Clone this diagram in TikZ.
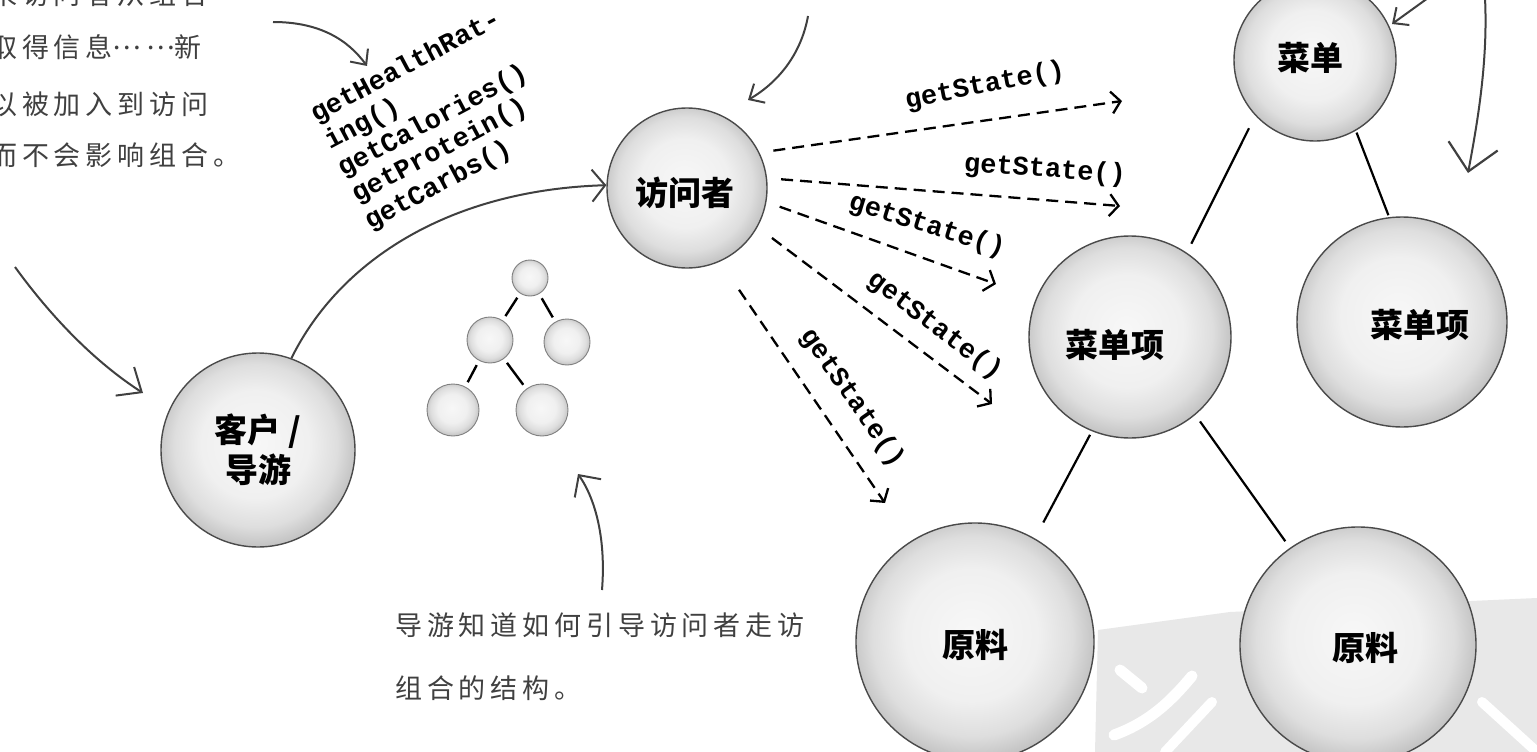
\documentclass[tikz,border=0pt]{standalone}
\usepackage{fontspec}
\newfontfamily\cjk{Noto Sans CJK SC}
\newfontfamily\handcjk[LetterSpace=18]{Noto Sans CJK SC}
\newfontfamily\mono{Liberation Mono}
\usetikzlibrary{arrows.meta}
\definecolor{ink}{HTML}{404040}
\definecolor{rim}{HTML}{4A4A4A}
\pgfdeclareradialshading{bubble}{\pgfpoint{-1bp}{2bp}}{color(0bp)=(black!3); color(14bp)=(black!6); color(21bp)=(black!13); color(26bp)=(black!24); color(29.5bp)=(black!36); color(32bp)=(black!48); color(34bp)=(black!58); color(36bp)=(black!66); color(50bp)=(black!66)}
\begin{document}
\begin{tikzpicture}[x=1pt,y=-1pt,
  bubble/.style={circle, shading=bubble, draw=rim, line width=1.4pt, inner sep=0pt},
  mini/.style={circle, shading=bubble, draw=black!50, line width=0.9pt, inner sep=0pt},
  lbl/.style={font=\cjk\bfseries\fontsize{33}{40}\selectfont, align=center, inner sep=0pt},
  meth/.style={font=\mono\bfseries\fontsize{27}{30}\selectfont, anchor=base west, rotate=28, inner sep=0pt},
  gs/.style={font=\mono\bfseries\fontsize{27}{30}\selectfont, inner sep=0pt},
  dar/.style={dash pattern=on 12pt off 7pt, line width=2.3pt, -{Straight Barb[length=9pt,width=22pt,line width=2.3pt]}},
  hand/.style={draw=ink, line width=2pt},
  note/.style={font=\handcjk\fontsize{27}{52}\selectfont, text=ink, inner sep=0pt},
  bedge/.style={line width=2.2pt, black},
  tedge/.style={line width=2.4pt, black, shorten <=5pt, shorten >=5pt}]
\useasboundingbox (0,0) rectangle (1537,752);
\fill[white] (0,0) rectangle (1537,752);
% watermark
\fill[black!9] (1095,752) -- (1098,630) -- (1230,612) -- (1537,598) -- (1537,752) -- cycle;
\draw[white, line width=11pt, line cap=round] (1120,670) -- (1142,688);
\draw[white, line width=11pt, line cap=round] (1114,735) .. controls (1150,722) and (1172,700) .. (1192,676);
\draw[white, line width=10pt, line cap=round] (1165,752) -- (1212,702);
\draw[white, line width=10pt, line cap=round] (1482,702) -- (1537,752);
% big bubbles
\node[bubble, minimum size=162pt] (menu) at (1315,60) {};
\node[bubble, minimum size=202pt] (itemL) at (1130,337) {};
\node[bubble, minimum size=210pt] (itemR) at (1402,322) {};
\node[bubble, minimum size=238pt] (ingL) at (975,642) {};
\node[bubble, minimum size=236pt] (ingR) at (1358,645) {};
\node[bubble, minimum size=160pt] (visitor) at (687,188) {};
\node[bubble, minimum size=194pt] (client) at (258,450) {};
% labels in bubbles
\node[lbl] (menuT) at (1310,58) {菜单};
\node[lbl] (itemLT) at (1115,345) {菜单项};
\node[lbl] (itemRT) at (1420,325) {菜单项};
\node[lbl] (ingLT) at (975,645) {原料};
\node[lbl] (ingRT) at (1365,648) {原料};
\node[lbl] (visitorT) at (685,193) {访问者};
\node[lbl] (clientT) at (258,450) {客户 /\\导游};
% tree edges
\draw[bedge, shorten <=14pt, shorten >=10pt] (menu.223) -- (itemL.56);
\draw[bedge, shorten <=2pt, shorten >=2pt] (menu.300) -- (itemR.97);
\draw[bedge, shorten <=4pt, shorten >=18pt] (itemL.248) -- (ingL.60);
\draw[bedge, shorten <=8pt, shorten >=8pt] (itemL.310) -- (ingR.125);
% mini tree
\node[mini, minimum size=36pt] (t0) at (530,278) {};
\node[mini, minimum size=46pt] (t1) at (490,340) {};
\node[mini, minimum size=46pt] (t2) at (567,342) {};
\node[mini, minimum size=52pt] (t3) at (453,410) {};
\node[mini, minimum size=52pt] (t4) at (542,410) {};
\draw[tedge] (t0) -- (t1);
\draw[tedge] (t0) -- (t2);
\draw[tedge] (t1) -- (t3);
\draw[tedge] (t1) -- (t4);
% dashed getState arrows
\coordinate (e1) at (1122,101);
\coordinate (e2) at (1120,206);
\coordinate (e3) at (996,284);
\coordinate (e4) at (992,404);
\coordinate (e5) at (885,503);
\draw[dar, shorten <=14pt] (visitor.26) -- (e1);
\draw[dar, shorten <=14pt] (visitor.7) -- (e2);
\draw[dar, shorten <=14pt] (visitor.-10) -- (e3);
\draw[dar, shorten <=18pt] (visitor.-29) -- (e4);
\draw[dar, shorten <=34pt] (visitor.-66) -- (e5);
\node[gs, rotate=11] (g1) at (985,86) {getState()};
\node[gs, rotate=-4] (g2) at (1045,170) {getState()};
\node[gs, rotate=-17] (g3) at (927,226) {getState()};
\node[gs, rotate=-37] (g4) at (935,326) {getState()};
\node[gs, rotate=-55] (g5) at (852,398) {getState()};
% method labels
\node[meth] (m1) at (316,123) {getHealthRat-};
\node[meth] (m2) at (330,150) {ing()};
\node[meth] (m3) at (343,177) {getCalories()};
\node[meth] (m4) at (357,203) {getProtein()};
\node[meth] (m5) at (370,230) {getCarbs()};
% client -> visitor
\draw[hand, -{Straight Barb[length=13pt,width=32pt,line width=2pt]}] (client.70) .. controls (340,260) and (450,190) .. (visitor.178);
% free annotation arrows
\coordinate (a1s) at (273,22);
\coordinate (a1e) at (367,66);
\draw[hand, -{Straight Barb[length=12pt,width=22pt,line width=2pt]}] (a1s) .. controls (320,22) and (348,40) .. (a1e);
\coordinate (a3s) at (15,267);
\coordinate (a3e) at (143,393);
\draw[hand, -{Straight Barb[length=20pt,width=34pt,line width=2pt]}] (a3s) .. controls (52,318) and (95,362) .. (a3e);
\coordinate (a4s) at (808,16);
\coordinate (a4e) at (748,100);
\draw[hand, -{Straight Barb[length=12pt,width=22pt,line width=2pt]}] (a4s) .. controls (802,50) and (782,80) .. (a4e);
\coordinate (a5s) at (1428,-2);
\coordinate (a5e) at (1392,24);
\draw[hand, -{Straight Barb[length=12pt,width=22pt,line width=2pt]}] (a5s) -- (a5e);
\coordinate (a6s) at (1485,-2);
\coordinate (a6e) at (1468,173);
\draw[hand, -{Straight Barb[length=26pt,width=50pt,line width=2.2pt]}] (a6s) .. controls (1488,60) and (1478,120) .. (a6e);
\coordinate (a7s) at (602,590);
\coordinate (a7e) at (578,474);
\draw[hand, -{Straight Barb[length=16pt,width=32pt,line width=2pt]}] (a7s) .. controls (606,540) and (596,500) .. (a7e);
% handwritten notes
\node[note, anchor=base west] (n1) at (-10,5) {来访问者从组合};
\node[note, anchor=base west] (n2) at (-10,58) {取得信息\raisebox{0.3em}{……}新};
\node[note, anchor=base west] (n3) at (-10,114) {以被加入到访问};
\node[note, anchor=base west] (n4) at (-10,165) {而不会影响组合。};
\node[note, anchor=base west] (n5) at (395,635) {导游知道如何引导访问者走访};
\node[note, anchor=base west] (n6) at (395,698) {组合的结构。};
\end{tikzpicture}
\end{document}
